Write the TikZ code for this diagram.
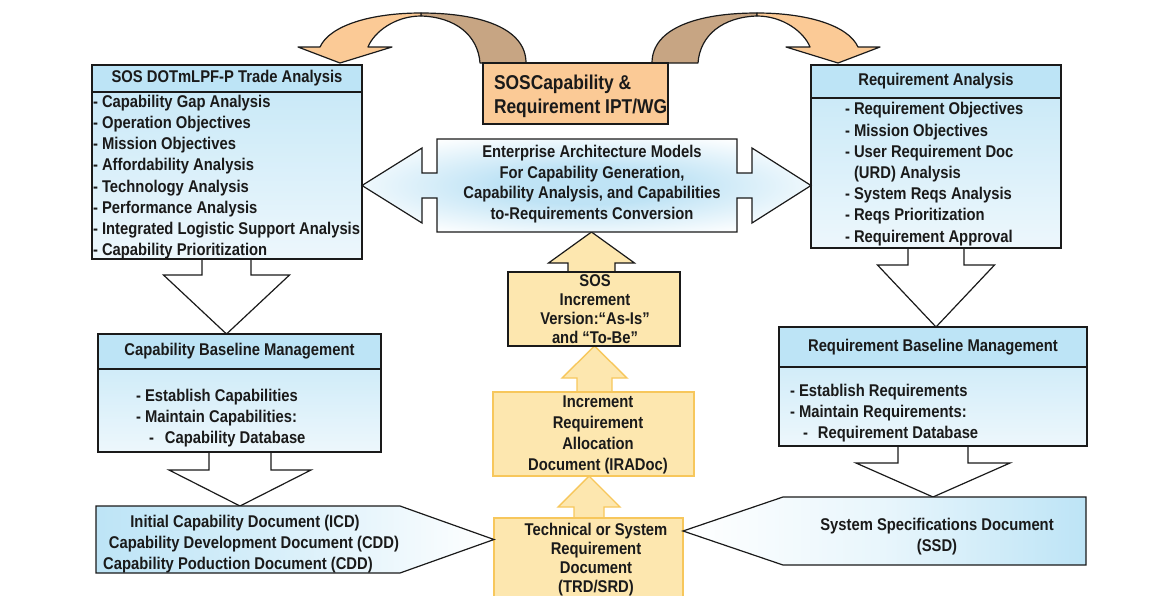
\documentclass[tikz,border=0pt]{standalone}
\usepackage{fontspec}
\setmainfont{Liberation Sans}[FakeStretch=0.87]
\usetikzlibrary{calc}
\pgfdeclarelayer{background}
\pgfsetlayers{background,main}
\definecolor{hdrblue}{HTML}{BDE4F6}
\definecolor{bodytop}{HTML}{C4E7F7}
\definecolor{bodybot}{HTML}{EDF7FC}
\definecolor{ltorange}{HTML}{FBCA96}
\definecolor{brownarc}{HTML}{C7A583}
\definecolor{ylwfill}{HTML}{FDE7AF}
\definecolor{ylwline}{HTML}{F7C75C}
\definecolor{ink}{HTML}{1A1A1A}
\definecolor{glow}{HTML}{BFE3F5}
\pgfdeclareradialshading{entglow}{\pgfpoint{0bp}{0bp}}{color(0bp)=(glow); color(10bp)=(glow); color(30bp)=(white); color(50bp)=(white)}
\tikzset{
 every node/.style={inner sep=0pt, outer sep=0pt, text=ink, font=\fontsize{17}{21.2}\selectfont\bfseries},
 bluebox/.style={draw=ink, line width=1.3pt, top color=bodytop, bottom color=bodybot},
 hdrbox/.style={draw=ink, line width=1.3pt, fill=hdrblue},
 blockarr/.style={draw=ink, line width=1.2pt, fill=white, line join=miter},
 ylwarr/.style={draw=ylwline, line width=1.4pt, fill=ylwfill, line join=miter},
 ylwarrk/.style={draw=ink, line width=1.2pt, fill=ylwfill, line join=miter},
 ylwbox/.style={draw=ylwline, line width=1.4pt, fill=ylwfill},
 arcline/.style={draw=ink, line width=1.2pt, line join=round},
 lst/.style={align=left, anchor=west},
 ctr/.style={align=center},
}
% down block arrow: from, to, centre x, shaft half width, barb half width, barb y
\newcommand\dnblock[6]{\path[blockarr] let \p1=(#1.south), \p2=(#2.north) in
 ({(#3-#4)*1pt},\y1) -- ({(#3-#4)*1pt},{-#6*1pt}) -- ({(#3-#5)*1pt},{-#6*1pt}) --
 ({#3*1pt},\y2) -- ({(#3+#5)*1pt},{-#6*1pt}) -- ({(#3+#4)*1pt},{-#6*1pt}) -- ({(#3+#4)*1pt},\y1);}
% up block arrow: from (lower), to (upper), centre x, shaft half, barb half, barb y, style
\newcommand\upblock[7]{\path[#7] let \p1=(#1.north), \p2=(#2.south) in
 ({(#3-#4)*1pt},\y1) -- ({(#3-#4)*1pt},{-#6*1pt}) -- ({(#3-#5)*1pt},{-#6*1pt}) --
 ({#3*1pt},\y2) -- ({(#3+#5)*1pt},{-#6*1pt}) -- ({(#3+#4)*1pt},{-#6*1pt}) -- ({(#3+#4)*1pt},\y1);}
\begin{document}
\begin{tikzpicture}[x=1pt,y=-1pt]
\useasboundingbox (0,0) rectangle (1164,595);
\clip (0,0) rectangle (1164,595);

% ---- curved arrows (drawn first) ----
\path[arcline, fill=brownarc] (480,63) .. controls (478,35) and (455,17) .. (421,16) -- (421,13) .. controls (480,13) and (526,28) .. (526,63) -- cycle;
\path[arcline, fill=ltorange] (421,13) .. controls (372,13) and (330,25) .. (320,47) -- (298,47) -- (340,63) -- (392,47) -- (368,47) .. controls (374,32) and (395,16) .. (421,16) -- cycle;
\path[arcline, fill=brownarc] (698,63) .. controls (700,35) and (723,17) .. (757,16) -- (757,13) .. controls (698,13) and (652,28) .. (652,63) -- cycle;
\path[arcline, fill=ltorange] (757,13) .. controls (806,13) and (848,25) .. (858,47) -- (880,47) -- (838,63) -- (786,47) -- (810,47) .. controls (804,32) and (783,16) .. (757,16) -- cycle;

% ---- SOS capability box ----
\node[draw=ink, line width=1.3pt, fill=ltorange, minimum width=185, minimum height=61] (ipt) at (575.5,93.5) {};
\node[lst, font=\fontsize{20}{24}\selectfont\bfseries] (iptt) at (494,96) {SOSCapability \&\\Requirement IPT/WG};

% ---- DOTmLPF box ----
\node[bluebox, minimum width=270, minimum height=194] (dot) at (227,162) {};
\node[hdrbox, minimum width=270, minimum height=27, anchor=north] (doth) at (dot.north) {SOS DOTmLPF-P Trade Analysis};
\node[lst] (dotl) at (93,177) {- Capability Gap Analysis\\- Operation Objectives\\- Mission Objectives\\- Affordability Analysis\\- Technology Analysis\\- Performance Analysis\\- Integrated Logistic Support Analysis\\- Capability Prioritization};

% ---- Requirement Analysis box ----
\node[bluebox, minimum width=250, minimum height=183] (ra) at (936,156.5) {};
\node[hdrbox, minimum width=250, minimum height=33, anchor=north] (rah) at (ra.north) {Requirement Analysis};
\node[lst] (ral) at (845,174) {- Requirement Objectives\\- Mission Objectives\\- User Requirement Doc\\\hphantom{- }(URD) Analysis\\- System Reqs Analysis\\- Reqs Prioritization\\- Requirement Approval};

% ---- Enterprise architecture double arrow ----
\node[minimum width=300, minimum height=93] (ent) at (587,185.5) {};
\coordinate (entL) at (dot.east |- ent.center);
\coordinate (entR) at (ra.west |- ent.center);
\path[draw=ink, line width=1.2pt, line join=miter, shade, shading=entglow]
 (ent.north west) -- (ent.north east) -- ($(ent.east)+(0,-12.5)$) -- ($(ent.east)+(15,-12.5)$) -- ($(ent.east)+(15,-37.5)$) -- (entR) -- ($(ent.east)+(15,37.5)$) -- ($(ent.east)+(15,12.5)$) -- ($(ent.east)+(0,12.5)$) -- (ent.south east) -- (ent.south west) -- ($(ent.west)+(0,12.5)$) -- ($(ent.west)+(-15,12.5)$) -- ($(ent.west)+(-15,37.5)$) -- (entL) -- ($(ent.west)+(-15,-37.5)$) -- ($(ent.west)+(-15,-12.5)$) -- ($(ent.west)+(0,-12.5)$) -- cycle;
\node[ctr, font=\fontsize{17}{20.7}\selectfont\bfseries] (entt) at (592,184) {Enterprise Architecture Models\\For Capability Generation,\\Capability Analysis, and Capabilities\\to-Requirements Conversion};

% ---- middle column ----
\node[draw=ink, line width=1.3pt, fill=ylwfill, minimum width=172, minimum height=74] (sos) at (594,309) {};
\node[ctr, font=\fontsize{17}{19}\selectfont\bfseries] (sost) at (595,309.5) {SOS\\Increment\\Version:“As-Is”\\and “To-Be”};
\node[ylwbox, minimum width=201, minimum height=84] (inc) at (593.5,434) {};
\node[ctr] (inct) at (598,435) {Increment\\Requirement\\Allocation\\Document (IRADoc)};
\node[ylwbox, minimum width=189, minimum height=102] (trd) at (588.5,569) {};
\node[ctr, font=\fontsize{17}{19}\selectfont\bfseries] (trdt) at (596,560) {Technical or System\\Requirement\\Document\\(TRD/SRD)};

% ---- Capability baseline management ----
\node[bluebox, minimum width=283, minimum height=118] (cbm) at (239.5,393) {};
\node[hdrbox, minimum width=283, minimum height=35, anchor=north] (cbmh) at (cbm.north) {Capability Baseline Management};
\node[lst] (cbml) at (136,418) {- Establish Capabilities\\- Maintain Capabilities:\\\hspace*{13pt}-\hspace*{11pt}Capability Database};

% ---- Requirement baseline management ----
\node[bluebox, minimum width=308, minimum height=119] (rbm) at (933,386.5) {};
\node[hdrbox, minimum width=308, minimum height=40, anchor=north] (rbmh) at (rbm.north) {Requirement Baseline Management};
\node[lst] (rbml) at (790,413) {- Establish Requirements\\- Maintain Requirements:\\\hspace*{13pt}-\hspace*{10pt}Requirement Database};

% ---- ICD pentagon ----
\node[minimum width=304, minimum height=67] (icd) at (248,539.5) {};
\coordinate (icdtip) at (trd.west |- icd.east);
\path[draw=ink, line width=1.2pt, line join=miter, left color=hdrblue, right color=white, middle color=hdrblue!55!white]
 (icd.north west) -- (icd.north east) -- (icdtip) -- (icd.south east) -- (icd.south west) -- cycle;
\node (icd1) at (245,523) {Initial Capability Document (ICD)};
\node (icd2) at (254,544) {Capability Development Document (CDD)};
\node (icd3) at (238,565) {Capability Poduction Document (CDD)};

% ---- SSD pentagon ----
\node[minimum width=303, minimum height=68] (ssd) at (934.5,531) {};
\coordinate (ssdtip) at (trd.east |- ssd.west);
\path[draw=ink, line width=1.2pt, line join=miter, left color=white, right color=hdrblue, middle color=hdrblue!35!white]
 (ssd.north west) -- (ssd.north east) -- (ssd.south east) -- (ssd.south west) -- (ssdtip) -- cycle;
\node[ctr, font=\fontsize{17}{21}\selectfont\bfseries] (ssdt) at (937,537) {System Specifications Document\\(SSD)};

% ---- block arrows (behind boxes) ----
\begin{pgfonlayer}{background}
\dnblock{dot}{cbm}{226.5}{24.5}{63}{275}
\dnblock{cbm}{icd}{240}{31}{71}{470}
\dnblock{ra}{rbm}{936}{28}{58.5}{265}
\dnblock{rbm}{ssd}{933}{35}{77}{463}
\upblock{sos}{ent}{591.5}{23.5}{43}{263}{ylwarrk}
\upblock{inc}{sos}{594.5}{17.5}{32.5}{378}{ylwarr}
\upblock{trd}{inc}{589}{15}{31}{507}{ylwarr}
\end{pgfonlayer}
\end{tikzpicture}
\end{document}
